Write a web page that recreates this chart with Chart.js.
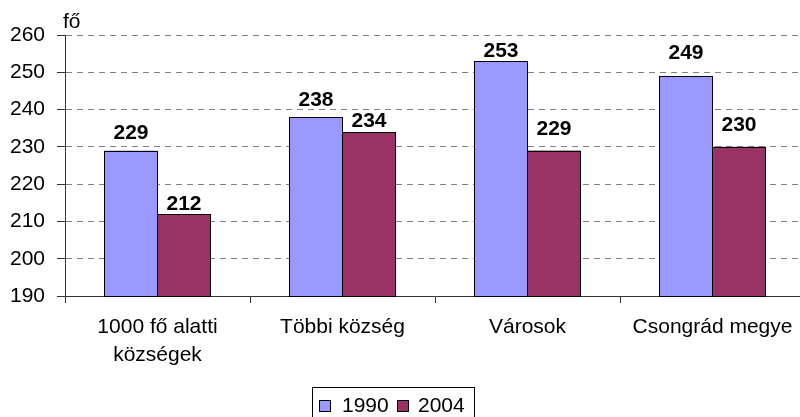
<!DOCTYPE html>
<html>
<head>
<meta charset="utf-8">
<script src="https://cdn.jsdelivr.net/npm/chart.js@4"></script>
<style>
  html, body { margin: 0; padding: 0; background: #fff; overflow: hidden; }
  canvas { display: block; }
</style>
</head>
<body>
<canvas id="chart" width="806" height="417"></canvas>
<script>
// data
const categories = [["1000 fő alatti", "községek"], "Többi község", "Városok", "Csongrád megye"];
const seriesNames = ["1990", "2004"];
const values1990 = [229, 238, 253, 249];
const values2004 = [212, 234, 229, 230];
const yTicks = [190, 200, 210, 220, 230, 240, 250, 260];
const unitLabel = "fő";

// label lift above bar top (px), per series
const labelGap1990 = [12, 11, 4, 17];
const labelGap2004 = [4, 5, 16, 16];

const colors = ["#9999FF", "#993366"];
const FONT = "'Liberation Sans', Arial, sans-serif";
Chart.defaults.font.family = FONT;
Chart.defaults.color = "#000";

const extrasPlugin = {
  id: "extras",
  afterDatasetsDraw(chart) {
    const ctx = chart.ctx;
    const area = chart.chartArea;
    const gaps = [labelGap1990, labelGap2004];
    ctx.save();
    // crisp black outlines round the bars (clipped to the axis)
    ctx.strokeStyle = "#000";
    ctx.lineWidth = 1;
    chart.data.datasets.forEach((ds, di) => {
      chart.getDatasetMeta(di).data.forEach(bar => {
        const p = bar.getProps(["x", "y", "base", "width"], true);
        const l = Math.floor(p.x - p.width / 2);
        const r = Math.floor(p.x + p.width / 2);
        const t = Math.round(p.y);
        const b = Math.round(Math.min(p.base, area.bottom));
        ctx.strokeRect(l + 0.5, t + 0.5, r - l, b - t);
      });
    });
    // value labels
    ctx.font = "bold 21px " + FONT;
    ctx.fillStyle = "#000";
    ctx.textAlign = "center";
    ctx.textBaseline = "alphabetic";
    chart.data.datasets.forEach((ds, di) => {
      chart.getDatasetMeta(di).data.forEach((bar, i) => {
        ctx.fillText(String(ds.data[i]), bar.x, bar.y - gaps[di][i]);
      });
    });
    ctx.restore();
  },
  afterDraw(chart) {
    const ctx = chart.ctx;
    ctx.save();
    // unit label
    ctx.font = "21px " + FONT;
    ctx.fillStyle = "#000";
    ctx.textAlign = "left";
    ctx.textBaseline = "alphabetic";
    ctx.fillText(unitLabel, chart.chartArea.left - 2, 28);

    // legend box
    ctx.strokeStyle = "#000";
    ctx.lineWidth = 1;
    ctx.strokeRect(312.5, 387.5, 162, 40);
    const items = [{ x: 319, tx: 342 }, { x: 397, tx: 418 }];
    items.forEach((it, i) => {
      ctx.fillStyle = colors[i];
      ctx.fillRect(it.x, 400, 12, 12);
      ctx.strokeRect(it.x + 0.5, 400.5, 11, 11);
      ctx.fillStyle = "#000";
      ctx.fillText(seriesNames[i], it.tx, 412);
    });
    ctx.restore();
  }
};

new Chart(document.getElementById("chart"), {
  type: "bar",
  data: {
    labels: categories,
    datasets: [
      { label: seriesNames[0], data: values1990, backgroundColor: colors[0], borderWidth: 0, inflateAmount: 0 },
      { label: seriesNames[1], data: values2004, backgroundColor: colors[1], borderWidth: 0, inflateAmount: 0 }
    ]
  },
  options: {
    responsive: false,
    animation: false,
    devicePixelRatio: 1,
    layout: { padding: { top: 35, left: 0, right: 1, bottom: 0 } },
    datasets: { bar: { barPercentage: 1, categoryPercentage: 0.573 } },
    plugins: { legend: { display: false }, tooltip: { enabled: false } },
    scales: {
      x: {
        grid: { drawOnChartArea: false, drawTicks: true, tickLength: 7, tickColor: "#333", offset: true },
        border: { display: true, color: "#333", width: 1 },
        ticks: { font: { size: 21, lineHeight: 1.33 }, color: "#000", padding: 10, maxRotation: 0, autoSkip: false },
        afterFit(scale) { scale.height = 121; }
      },
      y: {
        min: yTicks[0],
        max: yTicks[yTicks.length - 1],
        ticks: { stepSize: 10, font: { size: 21 }, color: "#000", padding: 12 },
        grid: { color: "#808080", tickLength: 8, tickColor: "#333", tickBorderDash: [] },
        border: { display: true, color: "#333", width: 1, dash: [6, 5] },
        afterFit(scale) { scale.width = 65; }
      }
    }
  },
  plugins: [extrasPlugin]
});
</script>
</body>
</html>
